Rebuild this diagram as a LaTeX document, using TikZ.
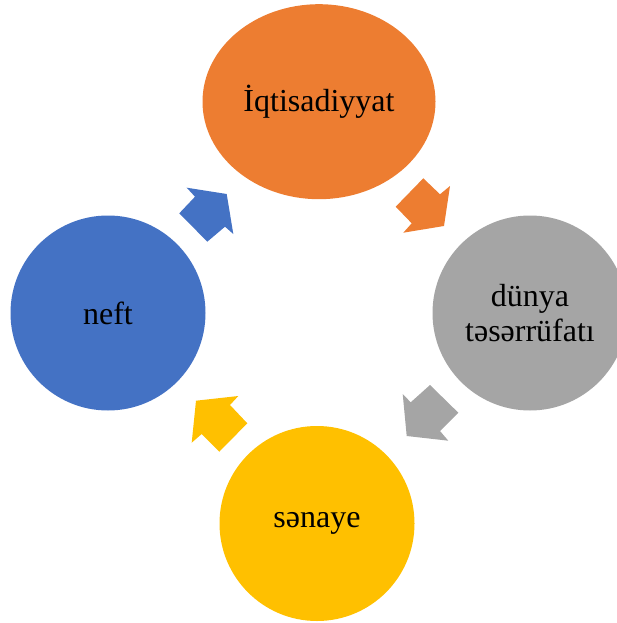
\documentclass[tikz,border=0pt]{standalone}
\usepackage{fontspec}
\setmainfont{Liberation Serif}
\usetikzlibrary{shapes.geometric}
\definecolor{cOrange}{HTML}{ED7D31}
\definecolor{cGray}{HTML}{A5A5A5}
\definecolor{cYellow}{HTML}{FFC000}
\definecolor{cBlue}{HTML}{4472C4}
\tikzset{
  bubble/.style={circle, minimum size=195pt, inner sep=0pt, outer sep=0pt, draw=none, font=\fontsize{32}{35}\selectfont, align=center, text=black},
  topbubble/.style={ellipse, minimum width=233pt, minimum height=195pt, inner sep=0pt, outer sep=0pt, draw=none, font=\fontsize{32}{35}\selectfont, text=black},
  blockarrow/.style={draw=none}
}
\begin{document}
\begin{tikzpicture}[x=1pt,y=-1pt]
\useasboundingbox (0,0) rectangle (617,623);
\clip (0,0) rectangle (617,623);
\node[topbubble, fill=cOrange] (iqt) at (319,101.7) {İqtisadiyyat};
\node[bubble, fill=cGray] (dun) at (530,313) {dünya\\təsərrüfatı};
\node[bubble, fill=cYellow] (sen) at (317,523.5) {sənaye};
\node[bubble, fill=cBlue] (nef) at (108,313) {neft};
% block arrows
\fill[blockarrow, cBlue] (186.7,187.7) -- (226.7,194) -- (233.3,234) -- (225,226.7) -- (207.3,241.7) -- (179.3,213.3) -- (195,196.7) -- cycle;
\fill[blockarrow, cOrange] (423.3,178.3) -- (440,194.3) -- (450,186) -- (444,226) -- (403.3,232.7) -- (411.7,223.3) -- (395.7,206.7) -- cycle;
\fill[blockarrow, cGray] (430,385) -- (458.3,412.7) -- (440,431) -- (448.3,440.7) -- (406.7,436) -- (402.7,394) -- (410.7,402.3) -- cycle;
\fill[blockarrow, cYellow] (196,400.7) -- (238.3,396) -- (230,405) -- (247.3,423.3) -- (219.3,451.7) -- (201.7,434) -- (191.7,442.7) -- cycle;
\end{tikzpicture}
\end{document}
